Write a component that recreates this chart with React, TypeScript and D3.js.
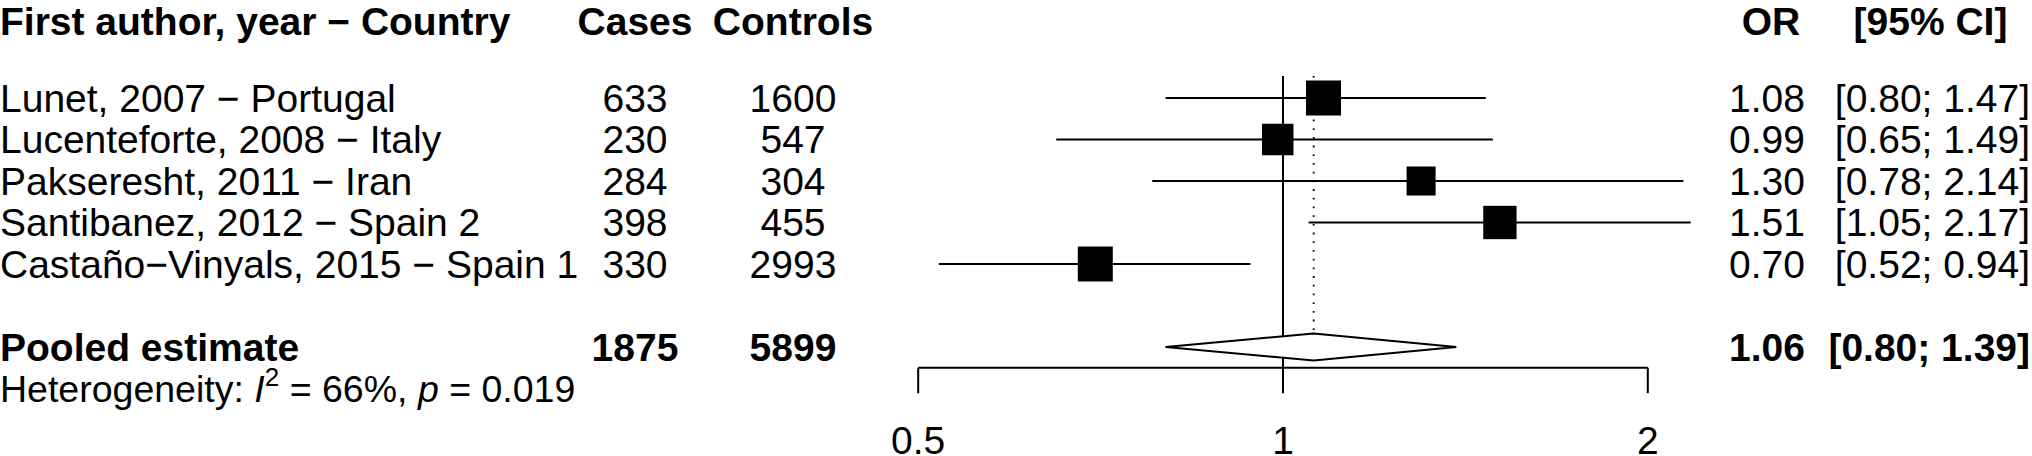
import React from "react";
import * as d3 from "d3";

// ---- data ----
const studyLabels = [
  "Lunet, 2007 − Portugal",
  "Lucenteforte, 2008 − Italy",
  "Pakseresht, 2011 − Iran",
  "Santibanez, 2012 − Spain 2",
  "Castaño−Vinyals, 2015 − Spain 1",
];
const cases = [633, 230, 284, 398, 330];
const controls = [1600, 547, 304, 455, 2993];
const oddsRatios = [1.08, 0.99, 1.3, 1.51, 0.7];
const lowerCI = [0.8, 0.65, 0.78, 1.05, 0.52];
const upperCI = [1.47, 1.49, 2.14, 2.17, 0.94];
const weights = [22.7, 18.4, 15.6, 20.6, 22.7];

const pooledLabel = "Pooled estimate";
const pooledCases = 1875;
const pooledControls = 5899;
const pooledOR = 1.06;
const pooledLower = 0.8;
const pooledUpper = 1.39;
const heterogeneityI2 = "66%";
const heterogeneityP = "0.019";

const headers = ["First author, year − Country", "Cases", "Controls", "OR", "[95% CI]"];
const axisTicks = [0.5, 1, 2];

const W = 2032;
const H = 456;
const FONT = "'Liberation Sans', Arial, Helvetica, sans-serif";
const FS = 39;

export default function App() {
  const x = d3.scaleLog().domain([0.5, 2]).range([918.2, 1647.8]);
  const y = d3.scaleLinear().domain([0, 1]).range([98, 139.5]);
  const size = d3.scaleSqrt().domain([0, 22.7]).range([0, 35]);

  const fmt2 = d3.format(".2f");
  const headerRow = -1.84;
  const pooledRow = 6;
  const hetRow = 7;
  const axisY = y(6.5);
  const tickLen = 25.5;

  const xCases = 635;
  const xControls = 793;
  const xOR = 1805;
  const xCI = 2030;

  const txt = (props: any, content: any, key?: any) => (
    <text key={key} fontFamily={FONT} fontSize={FS} dy="0.35em" fill="#000" {...props}>
      {content}
    </text>
  );

  const diamondPath = () => {
    const cy = y(pooledRow);
    const h = 13.4;
    const p = d3.path();
    p.moveTo(x(pooledLower), cy);
    p.lineTo(x(pooledOR), cy - h);
    p.lineTo(x(pooledUpper), cy);
    p.lineTo(x(pooledOR), cy + h);
    p.closePath();
    return p.toString();
  };

  return (
    <svg
      width={W}
      height={H}
      style={{ position: "absolute", left: 0, top: 0, background: "#fff" }}
    >
      <rect x={0} y={0} width={W} height={H} fill="#fff" />
      {/* headers */}
      {txt({ x: 0, y: y(headerRow), fontWeight: "bold" }, headers[0])}
      {txt({ x: xCases, y: y(headerRow), fontWeight: "bold", textAnchor: "middle" }, headers[1])}
      {txt({ x: xControls, y: y(headerRow), fontWeight: "bold", textAnchor: "middle" }, headers[2])}
      {txt({ x: 1771, y: y(headerRow), fontWeight: "bold", textAnchor: "middle" }, headers[3])}
      {txt({ x: 1930.5, y: y(headerRow), fontWeight: "bold", textAnchor: "middle" }, headers[4])}

      {/* reference line at 1 */}
      <line x1={x(1)} x2={x(1)} y1={y(-0.53)} y2={axisY} stroke="#000" strokeWidth={2} />
      {/* pooled estimate dotted line */}
      <line
        x1={x(pooledOR)}
        x2={x(pooledOR)}
        y1={y(-0.53)}
        y2={y(pooledRow) - 13.4}
        stroke="#000"
        strokeWidth={1.8}
        strokeDasharray="1.8 6.9"
      />

      {studyLabels.map((s, i) => (
        <g key={s}>
          {txt({ x: 0, y: y(i) }, s)}
          {txt({ x: xCases, y: y(i), textAnchor: "middle" }, cases[i])}
          {txt({ x: xControls, y: y(i), textAnchor: "middle" }, controls[i])}
          {txt({ x: xOR, y: y(i), textAnchor: "end" }, fmt2(oddsRatios[i]))}
          {txt({ x: xCI, y: y(i), textAnchor: "end" }, `[${fmt2(lowerCI[i])}; ${fmt2(upperCI[i])}]`)}
          <line
            x1={x(lowerCI[i])}
            x2={x(upperCI[i])}
            y1={y(i)}
            y2={y(i)}
            stroke="#000"
            strokeWidth={2.2}
          />
          <rect
            x={x(oddsRatios[i]) - size(weights[i]) / 2}
            y={y(i) - size(weights[i]) / 2}
            width={size(weights[i])}
            height={size(weights[i])}
            fill="#000"
          />
        </g>
      ))}

      {/* pooled row */}
      {txt({ x: 0, y: y(pooledRow), fontWeight: "bold" }, pooledLabel)}
      {txt({ x: xCases, y: y(pooledRow), fontWeight: "bold", textAnchor: "middle" }, pooledCases)}
      {txt({ x: xControls, y: y(pooledRow), fontWeight: "bold", textAnchor: "middle" }, pooledControls)}
      {txt({ x: xOR, y: y(pooledRow), fontWeight: "bold", textAnchor: "end" }, fmt2(pooledOR))}
      {txt(
        { x: xCI, y: y(pooledRow), fontWeight: "bold", textAnchor: "end" },
        `[${fmt2(pooledLower)}; ${fmt2(pooledUpper)}]`
      )}
      <path d={diamondPath()} fill="#fff" stroke="#000" strokeWidth={2} />

      {/* heterogeneity */}
      <text x={0} y={y(hetRow)} dy="0.35em" fontFamily={FONT} fontSize={37.5} fill="#000">
        <tspan>Heterogeneity: </tspan>
        <tspan fontStyle="italic">I</tspan>
        <tspan fontSize={26} dy={-16}>2</tspan>
        <tspan dy={16}> = {heterogeneityI2}, </tspan>
        <tspan fontStyle="italic">p</tspan>
        <tspan> = {heterogeneityP}</tspan>
      </text>

      {/* axis */}
      <line x1={x(0.5)} x2={x(2)} y1={axisY} y2={axisY} stroke="#000" strokeWidth={2} />
      {axisTicks.map((t) => (
        <g key={t}>
          <line x1={x(t)} x2={x(t)} y1={axisY} y2={axisY + tickLen} stroke="#000" strokeWidth={2} />
          {txt({ x: x(t), y: axisY + 73, textAnchor: "middle" }, String(t))}
        </g>
      ))}
    </svg>
  );
}
